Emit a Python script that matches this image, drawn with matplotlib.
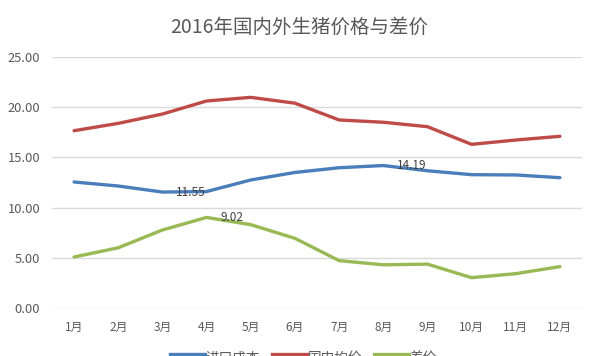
import matplotlib
matplotlib.use("Agg")
import matplotlib.pyplot as plt
from matplotlib.lines import Line2D

plt.rcParams['font.family'] = ['Noto Sans CJK SC', 'DejaVu Sans']

# 数据
months = ['1月', '2月', '3月', '4月', '5月', '6月', '7月', '8月', '9月', '10月', '11月', '12月']
import_cost = [12.55, 12.15, 11.55, 11.60, 12.75, 13.50, 13.97, 14.19, 13.67, 13.28, 13.25, 12.98]
domestic_avg = [17.66, 18.39, 19.32, 20.62, 20.98, 20.40, 18.73, 18.50, 18.06, 16.30, 16.73, 17.10]
spread = [5.08, 6.00, 7.77, 9.02, 8.30, 6.94, 4.72, 4.30, 4.37, 3.02, 3.42, 4.12]
yticks = [0, 5, 10, 15, 20, 25]

series = [
    ('进口成本', import_cost, '#4A7EBB'),
    ('国内均价', domestic_avg, '#BE4B48'),
    ('差价', spread, '#98B954'),
]
# 数据标签: (系列索引, 月份索引)
labels = [(0, 2), (2, 3), (0, 7)]

fig = plt.figure(figsize=(5.98, 3.56), dpi=100)
ax = fig.add_axes([52 / 598, 48 / 356, 530 / 598, 251 / 356])

x = list(range(len(months)))
for name, vals, col in series:
    ax.plot(x, vals, color=col, lw=2.4, solid_capstyle='round', label=name)

for si, mi in labels:
    v = series[si][1][mi]
    ax.annotate(f'{v:.2f}', (mi, v), xytext=(10, 0), textcoords='offset points',
                ha='left', va='center', fontsize=8.5, color='#404040')

ax.set_xlim(-0.5, len(months) - 0.5)
ax.set_ylim(0, 25)
ax.set_yticks(yticks)
ax.set_yticklabels([f'{t:.2f}' for t in yticks])
ax.set_xticks(x)
ax.set_xticklabels(months)
ax.grid(axis='y', color='#D9D9D9', lw=1)
ax.set_axisbelow(True)
for s in ax.spines.values():
    s.set_visible(False)
ax.tick_params(length=0, labelsize=8.5, colors='#595959')
ax.tick_params(axis='y', labelsize=9.3, pad=8.5)
ax.tick_params(axis='x', pad=9)

fig.text(0.5, 1 - 27 / 356, '2016年国内外生猪价格与差价', ha='center', va='center',
         fontsize=14, color='#595959')

handles = [Line2D([0], [0], color=c, lw=6) for _, _, c in series]
fig.legend(handles, [n for n, _, _ in series], loc='center',
           bbox_to_anchor=(0.5 + 6 / 598, -1.5 / 356),
           ncol=3, frameon=False, fontsize=9.8, labelcolor='#595959',
           handlelength=2.2, columnspacing=1.1, handletextpad=0.2)

fig.savefig('out.png', dpi=100)
